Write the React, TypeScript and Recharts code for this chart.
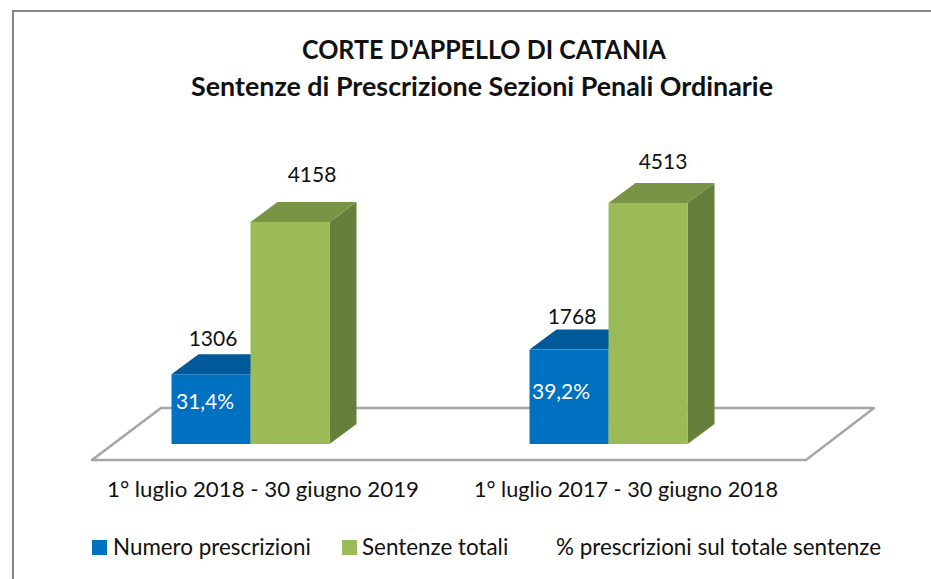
import React from 'react';
import { BarChart, Bar, XAxis, YAxis, LabelList, Legend } from 'recharts';

const CATEGORIES = ['1° luglio 2018 - 30 giugno 2019', '1° luglio 2017 - 30 giugno 2018'];
const PRESCRIZIONI = [1306, 1768];
const TOTALI = [4158, 4513];
const PERCENTUALI = ['31,4%', '39,2%'];
const LEGEND_LABELS = ['Numero prescrizioni', 'Sentenze totali', '% prescrizioni sul totale sentenze'];

const data = CATEGORIES.map((name, i) => ({
  name,
  prescrizioni: PRESCRIZIONI[i],
  totali: TOTALI[i],
  percentuale: PERCENTUALI[i],
}));

const FONT = 'Lato, "Open Sans", sans-serif';
const DEPTH_X = 27;
const DEPTH_Y = 20;

// hand-placed labels in the original, so they are nudged per bar
const BLUE_NUDGE = [2, 3];
const BLUE_LIFT = [28, 26];
const GREEN_NUDGE = [22, 15];
const GREEN_LIFT = [40, 34];
const PCT_NUDGE = [-6, -8];
const PCT_LIFT = [9, 6];
const TICK_NUDGE = [12, 17];
const TICK_LENGTH = [312, 304];

const Bar3D = ({ x, y, width, height, front, top, side }: any) => (
  <g>
    <polygon
      points={`${x + width},${y} ${x + width + DEPTH_X},${y - DEPTH_Y} ${x + width + DEPTH_X},${y + height - DEPTH_Y} ${x + width},${y + height}`}
      fill={side}
    />
    <polygon
      points={`${x},${y} ${x + DEPTH_X},${y - DEPTH_Y} ${x + width + DEPTH_X},${y - DEPTH_Y} ${x + width},${y}`}
      fill={top}
    />
    <rect x={x} y={y} width={width} height={height} fill={front} />
  </g>
);

const valueLabel = (nudge: number[], lift: number[]) => (props: any) => {
  const { x, y, width, value, index } = props;
  return (
    <text x={x + width / 2 + nudge[index]} y={y - lift[index]} textAnchor="middle" fontSize={21} fontFamily={FONT} fill="#111">
      {value}
    </text>
  );
};

const pctLabel = (props: any) => {
  const { x, y, width, height, value, index } = props;
  return (
    <text
      x={x + width / 2 + PCT_NUDGE[index]}
      y={y + height / 2 - PCT_LIFT[index]}
      textAnchor="middle"
      dominantBaseline="central"
      fontSize={21}
      fontFamily={FONT}
      fill="#fff"
    >
      {value}
    </text>
  );
};

const CategoryTick = ({ x, y, payload, index }: any) => (
  <text
    x={x + TICK_NUDGE[index]}
    y={y + 45}
    textAnchor="middle"
    fontSize={22}
    fontFamily={FONT}
    fill="#111"
    textLength={TICK_LENGTH[index]}
    lengthAdjust="spacingAndGlyphs"
  >
    {payload.value}
  </text>
);

const LegendRow = () => (
  <div style={{ position: 'relative', width: 931, height: 30, fontFamily: FONT, fontSize: 22.4, color: '#111' }}>
    <span style={{ position: 'absolute', left: 92, top: 10, width: 15, height: 15, background: '#0070c0' }} />
    <span style={{ position: 'absolute', left: 113, top: 3, whiteSpace: 'nowrap' }}>{LEGEND_LABELS[0]}</span>
    <span style={{ position: 'absolute', left: 342, top: 10, width: 15, height: 15, background: '#9bbb59' }} />
    <span style={{ position: 'absolute', left: 362, top: 3, whiteSpace: 'nowrap' }}>{LEGEND_LABELS[1]}</span>
    <span style={{ position: 'absolute', left: 556, top: 3, whiteSpace: 'nowrap' }}>{LEGEND_LABELS[2]}</span>
  </div>
);

export default function App() {
  return (
    <div style={{ position: 'absolute', left: 0, top: 0, width: 931, height: 579, background: '#fff', overflow: 'hidden' }}>
      <BarChart
        width={931}
        height={579}
        data={data}
        barGap={0}
        barCategoryGap="27.8%"
        margin={{ top: 177, right: 143, bottom: 75, left: 72 }}
      >
        <polyline points="13,579 13,11 931,11" fill="none" stroke="#868686" strokeWidth={2} />
        <text x={484} y={59} textAnchor="middle" fontSize={26} fontWeight={700} fontFamily={FONT} fill="#111" textLength={364} lengthAdjust="spacingAndGlyphs">
          CORTE D'APPELLO DI CATANIA
        </text>
        <text x={482} y={96} textAnchor="middle" fontSize={26} fontWeight={700} fontFamily={FONT} fill="#111" textLength={582} lengthAdjust="spacingAndGlyphs">
          Sentenze di Prescrizione Sezioni Penali Ordinarie
        </text>
        <polygon
          points="92,460 806,460 874,408 161,408"
          fill="#fff"
          stroke="#a6a6a6"
          strokeWidth={2.5}
          strokeLinejoin="round"
        />
        <XAxis dataKey="name" axisLine={false} tickLine={false} height={30} tick={CategoryTick} interval={0} />
        <YAxis hide domain={[0, 5000]} />
        <Bar
          dataKey="prescrizioni"
          isAnimationActive={false}
          shape={(p: any) => <Bar3D {...p} front="#0070c0" top="#005a9a" side="#004f87" />}
        >
          <LabelList dataKey="prescrizioni" content={valueLabel(BLUE_NUDGE, BLUE_LIFT)} />
          <LabelList dataKey="percentuale" content={pctLabel} />
        </Bar>
        <Bar
          dataKey="totali"
          isAnimationActive={false}
          shape={(p: any) => <Bar3D {...p} front="#9bbb59" top="#7a9445" side="#667f3b" />}
        >
          <LabelList dataKey="totali" content={valueLabel(GREEN_NUDGE, GREEN_LIFT)} />
        </Bar>
        <Legend
          content={LegendRow}
          verticalAlign="bottom"
          wrapperStyle={{ position: 'absolute', left: 0, top: 530, width: 931 }}
        />
      </BarChart>
    </div>
  );
}
